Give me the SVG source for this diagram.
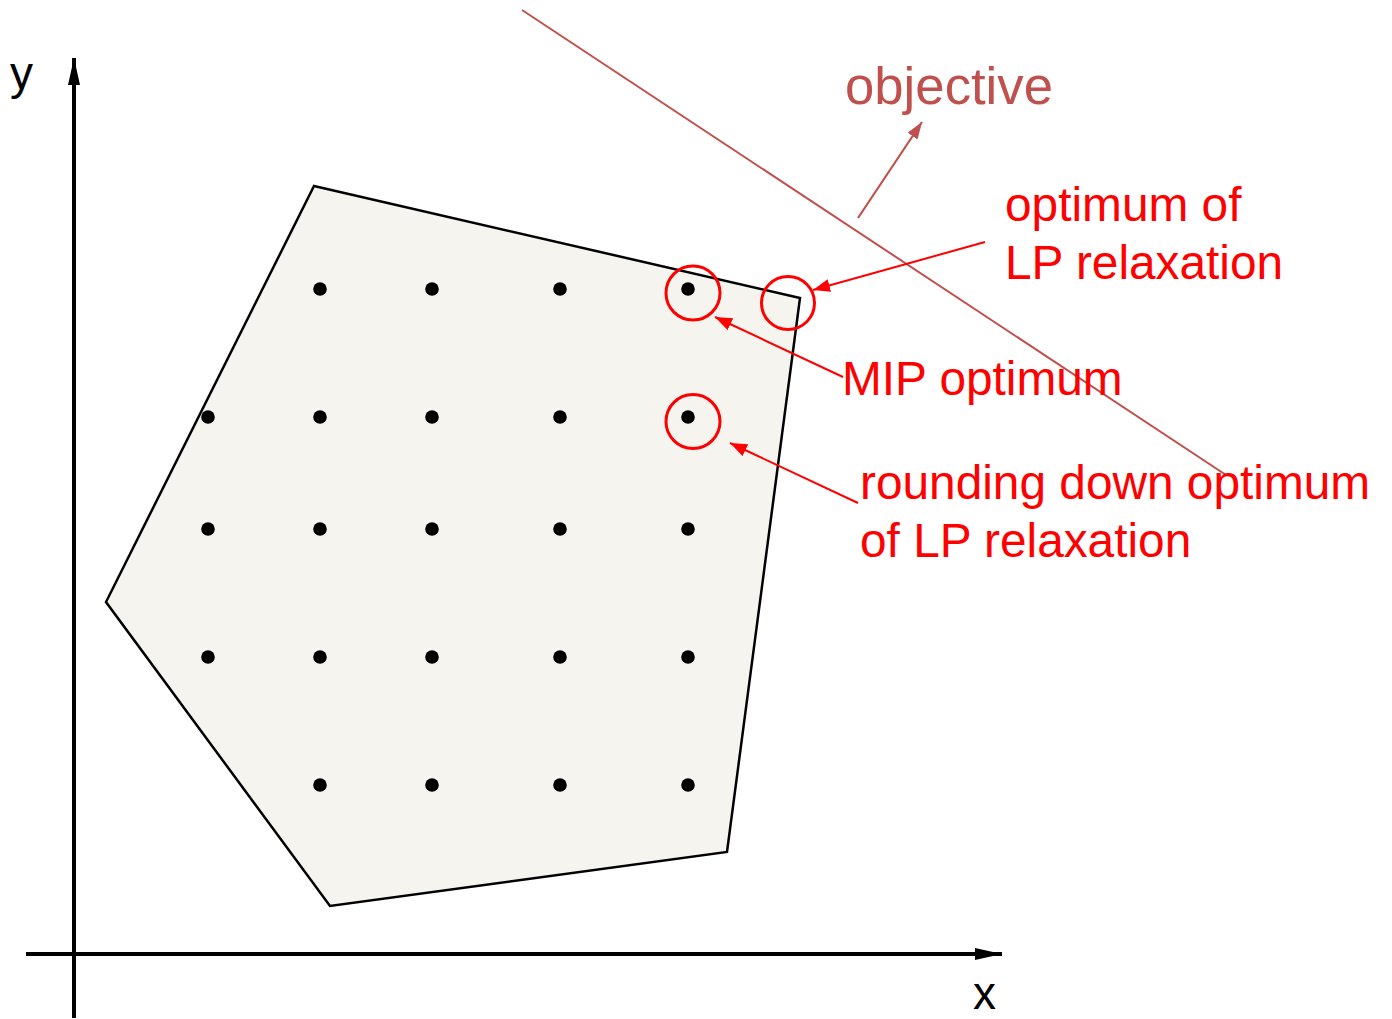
<svg xmlns="http://www.w3.org/2000/svg" width="1392" height="1019" viewBox="0 0 1392 1019">
<style>
.lbl{font-family:"Liberation Sans",Arial,sans-serif;font-size:47.8px}
.red{fill:#ff0000}
.obj{fill:#c0504d}
.dot{fill:#000}
.ring{fill:none;stroke:#ff0000;stroke-width:3}
</style>
<defs>
<marker id="ahBlack" markerUnits="userSpaceOnUse" markerWidth="28" markerHeight="14" refX="27" refY="7" orient="auto">
<path d="M0,1 L27,7 L0,13 z" fill="#000"/>
</marker>
<marker id="ahRed" markerUnits="userSpaceOnUse" markerWidth="18" markerHeight="14" refX="17" refY="7" orient="auto">
<path d="M0,0.5 L17,7 L0,13.5 z" fill="#ff0000"/>
</marker>
<marker id="ahObj" markerUnits="userSpaceOnUse" markerWidth="18" markerHeight="14" refX="17" refY="7" orient="auto">
<path d="M0,1 L17,7 L0,13 z" fill="#c0504d"/>
</marker>
</defs>
<rect width="1392" height="1019" fill="#fff"/>
<g id="region">
<polygon points="314,186 800,298 727,852 330,906 106,602" fill="#f5f4ef" stroke="#000" stroke-width="2.5" stroke-linejoin="miter"/>
</g>
<g id="points">
<circle class="dot" cx="320" cy="289" r="6.8"/><circle class="dot" cx="432" cy="289" r="6.8"/><circle class="dot" cx="560" cy="289" r="6.8"/><circle class="dot" cx="688" cy="289" r="6.8"/>
<circle class="dot" cx="208" cy="417" r="6.8"/><circle class="dot" cx="320" cy="417" r="6.8"/><circle class="dot" cx="432" cy="417" r="6.8"/><circle class="dot" cx="560" cy="417" r="6.8"/><circle class="dot" cx="688" cy="417" r="6.8"/>
<circle class="dot" cx="208" cy="529" r="6.8"/><circle class="dot" cx="320" cy="529" r="6.8"/><circle class="dot" cx="432" cy="529" r="6.8"/><circle class="dot" cx="560" cy="529" r="6.8"/><circle class="dot" cx="688" cy="529" r="6.8"/>
<circle class="dot" cx="208" cy="657" r="6.8"/><circle class="dot" cx="320" cy="657" r="6.8"/><circle class="dot" cx="432" cy="657" r="6.8"/><circle class="dot" cx="560" cy="657" r="6.8"/><circle class="dot" cx="688" cy="657" r="6.8"/>
<circle class="dot" cx="320" cy="785" r="6.8"/><circle class="dot" cx="432" cy="785" r="6.8"/><circle class="dot" cx="560" cy="785" r="6.8"/><circle class="dot" cx="688" cy="785" r="6.8"/>
</g>
<g id="highlights">
<circle id="mip-ring" class="ring" cx="693" cy="293" r="27"/>
<circle id="lp-ring" class="ring" cx="788" cy="303" r="26.5"/>
<circle id="round-ring" class="ring" cx="693" cy="421.5" r="27"/>
</g>
<g id="axes">
<line x1="74" y1="1018" x2="74" y2="58" stroke="#000" stroke-width="4" marker-end="url(#ahBlack)"/>
<line x1="26" y1="954" x2="1002" y2="954" stroke="#000" stroke-width="4" marker-end="url(#ahBlack)"/>
<text class="lbl" x="10" y="89" fill="#000" style="font-size:46px">y</text>
<text class="lbl" x="973" y="1009" fill="#000" style="font-size:46px">x</text>
</g>
<g id="connectors">
<line x1="522" y1="10" x2="1226" y2="475" stroke="#c0504d" stroke-width="2"/>
<line x1="858" y1="218" x2="922" y2="122" stroke="#c0504d" stroke-width="2.2" marker-end="url(#ahObj)"/>
<line x1="985" y1="242" x2="813" y2="290" stroke="#ff0000" stroke-width="2" marker-end="url(#ahRed)"/>
<line x1="843" y1="377" x2="715" y2="317" stroke="#ff0000" stroke-width="2" marker-end="url(#ahRed)"/>
<line x1="858" y1="503" x2="730" y2="443" stroke="#ff0000" stroke-width="2" marker-end="url(#ahRed)"/>
</g>
<g id="labels">
<text id="objective" class="lbl obj" x="845" y="104" style="font-size:51px" textLength="208" lengthAdjust="spacingAndGlyphs">objective</text>
<text id="lp-opt" class="lbl red"><tspan x="1005" y="221">optimum of</tspan><tspan x="1005" y="279">LP relaxation</tspan></text>
<text id="mip-opt" class="lbl red" x="842" y="395">MIP optimum</text>
<text id="round-opt" class="lbl red"><tspan x="860" y="499">rounding down optimum</tspan><tspan x="860" y="557">of LP relaxation</tspan></text>
</g>
</svg>
